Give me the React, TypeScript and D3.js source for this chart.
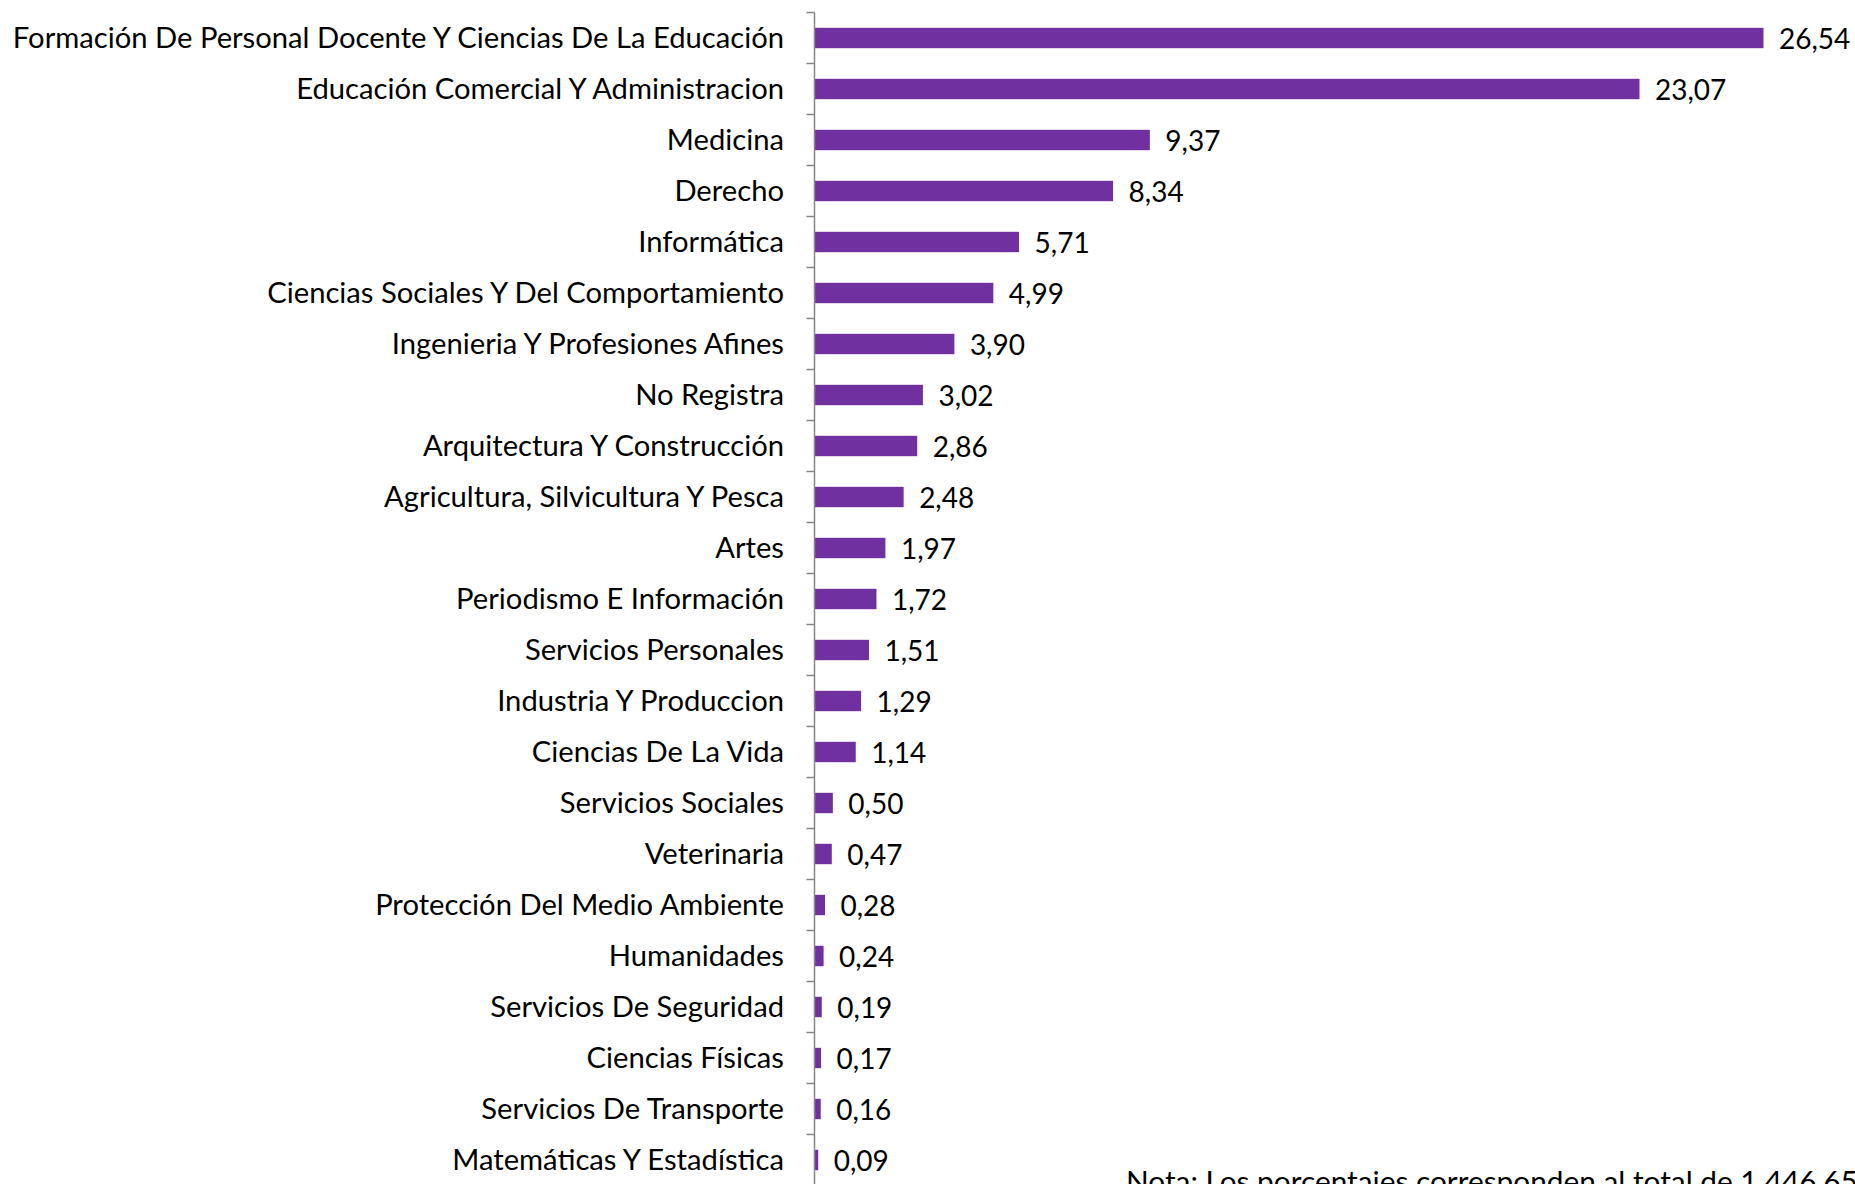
import * as d3 from "d3";
import { useEffect, useRef } from "react";

const categories = [
  "Formación De Personal Docente Y Ciencias De La Educación",
  "Educación Comercial Y Administracion",
  "Medicina",
  "Derecho",
  "Informática",
  "Ciencias Sociales Y Del Comportamiento",
  "Ingenieria Y Profesiones Afines",
  "No Registra",
  "Arquitectura Y Construcción",
  "Agricultura, Silvicultura Y Pesca",
  "Artes",
  "Periodismo E Información",
  "Servicios Personales",
  "Industria Y Produccion",
  "Ciencias De La Vida",
  "Servicios Sociales",
  "Veterinaria",
  "Protección Del Medio Ambiente",
  "Humanidades",
  "Servicios De Seguridad",
  "Ciencias Físicas",
  "Servicios De Transporte",
  "Matemáticas Y Estadística",
];

const values = [
  26.54, 23.07, 9.37, 8.34, 5.71, 4.99, 3.9, 3.02, 2.86, 2.48, 1.97, 1.72, 1.51, 1.29, 1.14, 0.5, 0.47,
  0.28, 0.24, 0.19, 0.17, 0.16, 0.09,
];

const note = "Nota: Los porcentajes corresponden al total de 1.446,65";

const FONT = "Lato, 'Open Sans', sans-serif";

function drawChart(svgElement: SVGSVGElement) {
  const width = 1855;
  const height = 1184;
  const axisX = 814.5;
  const svg = d3.select(svgElement);

  svg.selectAll("*").remove();
  svg.attr("width", width).attr("height", height).attr("viewBox", `0 0 ${width} ${height}`);

  const data = categories.map((name, i) => ({ name, value: values[i] }));

  const y = d3
    .scaleBand<string>()
    .domain(categories)
    .range([12.5, 12.5 + 51 * categories.length])
    .paddingInner(0.6)
    .paddingOuter(0.3);

  const x = d3.scaleLinear().domain([0, 26.54]).range([axisX, 1763]);

  svg
    .append("g")
    .selectAll("rect")
    .data(data)
    .join("rect")
    .attr("x", x(0) + 0.5)
    .attr("y", (d) => y(d.name)!)
    .attr("width", (d) => x(d.value) - x(0))
    .attr("height", y.bandwidth())
    .attr("fill", "#7030a0");

  // axis line and ticks between categories
  const step = y.step();
  const top = 12.5;
  const axis = svg.append("g").attr("stroke", "#868686").attr("stroke-width", 1.5);
  axis.append("line").attr("x1", axisX).attr("x2", axisX).attr("y1", top).attr("y2", height);
  axis
    .selectAll("line.tick")
    .data(d3.range(categories.length + 1))
    .join("line")
    .attr("class", "tick")
    .attr("x1", axisX - 8)
    .attr("x2", axisX)
    .attr("y1", (i) => top + i * step)
    .attr("y2", (i) => top + i * step);

  svg
    .append("g")
    .selectAll("text")
    .data(data)
    .join("text")
    .attr("x", 784)
    .attr("y", (d) => y(d.name)! + y.bandwidth() / 2)
    .attr("dy", "0.35em")
    .attr("text-anchor", "end")
    .attr("font-family", FONT)
    .attr("font-size", 29.2)
    .attr("fill", "#000")
    .text((d) => d.name);

  svg
    .append("g")
    .selectAll("text")
    .data(data)
    .join("text")
    .attr("x", (d) => x(d.value) + 16)
    .attr("y", (d) => y(d.name)! + y.bandwidth() / 2)
    .attr("dy", "0.38em")
    .attr("font-family", FONT)
    .attr("font-size", 28)
    .attr("fill", "#000")
    .text((d) => d3.format(".2f")(d.value).replace(".", ","));

  svg
    .append("text")
    .attr("x", 1126)
    .attr("y", 1192)
    .attr("font-family", FONT)
    .attr("font-size", 29.8)
    .attr("fill", "#000")
    .text(note);
}

export default function App() {
  const svgRef = useRef<SVGSVGElement>(null);

  useEffect(() => {
    if (svgRef.current) drawChart(svgRef.current);
  }, []);

  return (
    <svg
      ref={svgRef}
      role="img"
      aria-label="Distribución porcentual por área de conocimiento"
      style={{ position: "absolute", left: 0, top: 0, display: "block", background: "#fff" }}
    />
  );
}
